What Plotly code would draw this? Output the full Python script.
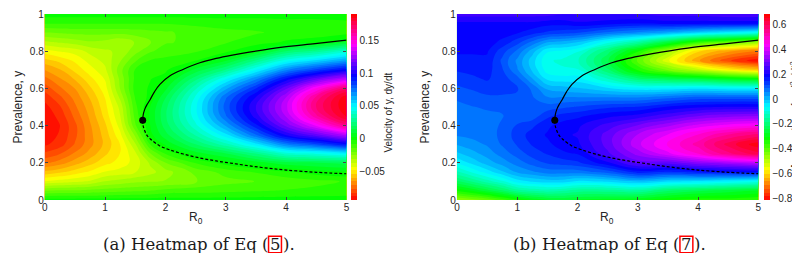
import numpy as np
import plotly.graph_objects as go

# ---------------- data ----------------
r0_grid = [0, 0.25, 0.5, 0.75, 1.0, 1.25, 1.5, 1.75, 2.0, 2.5, 3.0, 3.5, 4.0, 4.5, 5.0]
y_grid = [0.0, 0.05, 0.1, 0.15, 0.2, 0.25, 0.3, 0.35, 0.4, 0.45, 0.5,
          0.55, 0.6, 0.65, 0.7, 0.75, 0.8, 0.85, 0.9, 0.95, 1.0]

# velocity dy/dt, one row per prevalence value (y_grid), across r0_grid
vel_y000 = [0.0, 0.0, 0.0, 0.0, 0.0, 0.0, 0.0, 0.0, 0.0, 0.0, 0.0, 0.0, 0.0, 0.0, 0.0]
vel_y005 = [-0.020, -0.019, -0.019, -0.018, -0.017, -0.016, -0.015, -0.014, -0.012, -0.011, -0.010, -0.009, -0.008, -0.007, -0.006]
vel_y010 = [-0.042, -0.040, -0.038, -0.036, -0.031, -0.029, -0.027, -0.026, -0.025, -0.020, -0.016, -0.014, -0.012, -0.010, -0.008]
vel_y015 = [-0.058, -0.055, -0.051, -0.047, -0.042, -0.040, -0.037, -0.033, -0.028, -0.018, -0.012, -0.008, -0.004, 0.000, 0.002]
vel_y020 = [-0.072, -0.068, -0.062, -0.056, -0.050, -0.046, -0.040, -0.030, -0.020, -0.008, 0.000, 0.006, 0.012, 0.014, 0.016]
vel_y025 = [-0.081, -0.077, -0.070, -0.063, -0.055, -0.048, -0.038, -0.020, -0.008, 0.006, 0.014, 0.026, 0.040, 0.044, 0.050]
vel_y030 = [-0.089, -0.085, -0.076, -0.067, -0.058, -0.048, -0.032, -0.008, 0.004, 0.020, 0.035, 0.052, 0.072, 0.082, 0.094]
vel_y035 = [-0.092, -0.087, -0.078, -0.067, -0.057, -0.044, -0.024, 0.001, 0.012, 0.032, 0.052, 0.076, 0.100, 0.114, 0.130]
vel_y040 = [-0.093, -0.088, -0.078, -0.066, -0.055, -0.040, -0.015, 0.003, 0.017, 0.041, 0.066, 0.092, 0.118, 0.140, 0.165]
vel_y045 = [-0.092, -0.086, -0.075, -0.064, -0.052, -0.037, -0.012, 0.004, 0.019, 0.046, 0.076, 0.102, 0.128, 0.160, 0.186]
vel_y050 = [-0.090, -0.083, -0.072, -0.062, -0.050, -0.035, -0.010, 0.003, 0.018, 0.047, 0.079, 0.105, 0.132, 0.168, 0.190]
vel_y055 = [-0.086, -0.078, -0.069, -0.059, -0.048, -0.030, -0.008, -0.001, 0.014, 0.044, 0.076, 0.100, 0.128, 0.164, 0.189]
vel_y060 = [-0.080, -0.072, -0.065, -0.055, -0.045, -0.025, -0.006, -0.002, 0.007, 0.036, 0.064, 0.088, 0.115, 0.145, 0.172]
vel_y065 = [-0.073, -0.066, -0.059, -0.050, -0.042, -0.024, -0.007, -0.003, 0.000, 0.024, 0.048, 0.070, 0.096, 0.115, 0.132]
vel_y070 = [-0.065, -0.060, -0.052, -0.045, -0.038, -0.022, -0.008, -0.004, -0.004, 0.010, 0.026, 0.048, 0.070, 0.084, 0.096]
vel_y075 = [-0.056, -0.052, -0.047, -0.040, -0.035, -0.026, -0.015, -0.008, -0.007, -0.003, 0.008, 0.026, 0.045, 0.055, 0.066]
vel_y080 = [-0.045, -0.042, -0.040, -0.035, -0.032, -0.030, -0.022, -0.015, -0.011, -0.009, -0.004, 0.004, 0.020, 0.028, 0.040]
vel_y085 = [-0.032, -0.030, -0.028, -0.026, -0.027, -0.030, -0.025, -0.020, -0.015, -0.012, -0.009, -0.006, -0.002, 0.000, 0.008]
vel_y090 = [-0.020, -0.019, -0.018, -0.018, -0.018, -0.018, -0.017, -0.016, -0.015, -0.012, -0.010, -0.009, -0.007, -0.006, -0.005]
vel_y095 = [-0.008, -0.008, -0.008, -0.008, -0.008, -0.008, -0.008, -0.008, -0.008, -0.007, -0.006, -0.006, -0.005, -0.005, -0.004]
vel_y100 = [0.0, 0.0, 0.0, 0.0, 0.0, 0.0, 0.0, 0.0, 0.0, 0.0, 0.0, 0.0, 0.0, 0.0, 0.0]

# acceleration d2y/dt2, one column per R0 value (r0_grid), along y_grid
acc_r000 = [-0.46, -0.33, -0.22, -0.13, -0.06, -0.01, 0.03, 0.06, 0.07, 0.075, 0.08, 0.09, 0.11, 0.13, 0.15, 0.17, 0.18, 0.19, 0.19, 0.20, 0.25]
acc_r025 = [-0.44, -0.30, -0.18, -0.09, -0.025, 0.015, 0.045, 0.065, 0.072, 0.078, 0.085, 0.10, 0.12, 0.14, 0.155, 0.17, 0.18, 0.19, 0.19, 0.20, 0.25]
acc_r050 = [-0.42, -0.26, -0.14, -0.05, 0.01, 0.04, 0.06, 0.07, 0.075, 0.08, 0.09, 0.11, 0.13, 0.15, 0.16, 0.17, 0.18, 0.19, 0.19, 0.20, 0.25]
acc_r075 = [-0.38, -0.22, -0.10, -0.01, 0.04, 0.07, 0.09, 0.095, 0.09, 0.085, 0.09, 0.11, 0.13, 0.13, 0.12, 0.11, 0.13, 0.17, 0.19, 0.20, 0.25]
acc_r100 = [-0.34, -0.17, -0.05, 0.03, 0.07, 0.10, 0.12, 0.13, 0.12, 0.10, 0.10, 0.11, 0.12, 0.10, 0.06, 0.05, 0.08, 0.13, 0.18, 0.20, 0.25]
acc_r125 = [-0.30, -0.15, -0.03, 0.05, 0.10, 0.13, 0.15, 0.16, 0.14, 0.10, 0.09, 0.09, 0.08, 0.03, -0.01, -0.02, 0.01, 0.08, 0.16, 0.20, 0.25]
acc_r150 = [-0.28, -0.14, -0.02, 0.07, 0.12, 0.15, 0.17, 0.18, 0.17, 0.14, 0.10, 0.06, 0.02, -0.04, -0.08, -0.09, -0.06, 0.03, 0.14, 0.19, 0.25]
acc_r175 = [-0.27, -0.15, -0.02, 0.07, 0.13, 0.17, 0.19, 0.20, 0.19, 0.16, 0.11, 0.06, 0.01, -0.05, -0.09, -0.10, -0.07, 0.02, 0.13, 0.19, 0.24]
acc_r200 = [-0.28, -0.17, -0.04, 0.07, 0.14, 0.18, 0.20, 0.21, 0.20, 0.17, 0.12, 0.06, 0.00, -0.05, -0.09, -0.12, -0.09, 0.00, 0.12, 0.20, 0.24]
acc_r250 = [-0.29, -0.17, -0.03, 0.10, 0.20, 0.26, 0.28, 0.28, 0.25, 0.20, 0.14, 0.06, -0.03, -0.12, -0.21, -0.24, -0.20, -0.08, 0.08, 0.19, 0.24]
acc_r300 = [-0.30, -0.16, 0.00, 0.16, 0.28, 0.34, 0.38, 0.36, 0.30, 0.22, 0.15, 0.06, -0.05, -0.20, -0.34, -0.40, -0.33, -0.15, 0.05, 0.18, 0.24]
acc_r350 = [-0.33, -0.21, -0.03, 0.14, 0.28, 0.41, 0.45, 0.42, 0.35, 0.26, 0.18, 0.08, -0.05, -0.23, -0.43, -0.54, -0.47, -0.25, 0.02, 0.19, 0.25]
acc_r400 = [-0.35, -0.24, -0.04, 0.16, 0.32, 0.48, 0.52, 0.48, 0.40, 0.30, 0.20, 0.10, -0.04, -0.25, -0.50, -0.66, -0.60, -0.35, -0.02, 0.19, 0.25]
acc_r450 = [-0.35, -0.26, -0.06, 0.17, 0.35, 0.56, 0.61, 0.54, 0.43, 0.32, 0.21, 0.10, -0.05, -0.28, -0.57, -0.75, -0.66, -0.40, -0.05, 0.19, 0.26]
acc_r500 = [-0.36, -0.28, -0.08, 0.18, 0.38, 0.62, 0.68, 0.58, 0.45, 0.33, 0.21, 0.10, -0.05, -0.30, -0.62, -0.81, -0.70, -0.45, -0.08, 0.19, 0.26]

# equilibrium branches (fold at the dot)
fold_r0 = [1.623]
fold_y = [0.429]
upper_r0 = [1.623, 1.633, 1.66, 1.69, 1.743, 1.82, 1.908, 2.07, 2.29, 2.57, 2.84, 3.11, 3.39, 3.94, 4.48, 5.0]
upper_y = [0.429, 0.46, 0.49, 0.51, 0.538, 0.583, 0.622, 0.667, 0.702, 0.738, 0.761, 0.779, 0.795, 0.822, 0.841, 0.86]
lower_r0 = [1.623, 1.63, 1.66, 1.70, 1.75, 1.9, 2.07, 2.3, 2.57, 2.84, 3.11, 3.4, 3.7, 4.0, 4.5, 5.0]
lower_y = [0.429, 0.40, 0.37, 0.345, 0.328, 0.292, 0.27, 0.247, 0.226, 0.21, 0.197, 0.183, 0.171, 0.161, 0.149, 0.141]

x_ticks = [0, 1, 2, 3, 4, 5]
y_ticks = [0, 0.2, 0.4, 0.6, 0.8, 1]
vel_ticks = [-0.05, 0, 0.05, 0.1, 0.15]
acc_ticks = [-0.8, -0.6, -0.4, -0.2, 0, 0.2, 0.4, 0.6]
vel_range = [-0.0935, 0.19]
acc_range = [-0.816, 0.688]

# ---------------- build tables ----------------
vel_z = np.array([vel_y000, vel_y005, vel_y010, vel_y015, vel_y020, vel_y025, vel_y030,
                  vel_y035, vel_y040, vel_y045, vel_y050, vel_y055, vel_y060, vel_y065,
                  vel_y070, vel_y075, vel_y080, vel_y085, vel_y090, vel_y095, vel_y100])
acc_z = np.array([acc_r000, acc_r025, acc_r050, acc_r075, acc_r100, acc_r125, acc_r150,
                  acc_r175, acc_r200, acc_r250, acc_r300, acc_r350, acc_r400, acc_r450,
                  acc_r500]).T

hsv = [[0, '#ff0000'], [1/6, '#ffff00'], [2/6, '#00ff00'], [3/6, '#00ffff'],
       [4/6, '#0000ff'], [5/6, '#ff00ff'], [1, '#ff0000']]

W, H = 800, 253
MT, MB = 5, 61
PH = H - MT - MB


def px_x(px):
    return px / W


def px_y(py):
    return (H - MB - py) / PH


SANS = 'Liberation Sans, Arial, sans-serif'
tick_font = dict(family=SANS, size=10, color='#262626')
label_font = dict(family=SANS, size=12, color='#262626')
cb_title_font = dict(family=SANS, size=10, color='#262626')
cap_font = dict(family='DejaVu Serif, serif', size=16.5, color='#1a1a1a')

fig = go.Figure()


def add_panel(z, zr, ticks, xa, ya, cbx, nlev):
    fig.add_trace(go.Contour(
        x=r0_grid, y=y_grid, z=z, xaxis=xa, yaxis=ya,
        colorscale=hsv, zmin=zr[0], zmax=zr[1], autocontour=False,
        contours=dict(start=zr[0], end=zr[1], size=(zr[1] - zr[0]) / nlev,
                      coloring='fill', showlines=False),
        line=dict(width=0, smoothing=1.3),
        colorbar=dict(x=cbx, xanchor='left', y=0.5, yanchor='middle', len=1,
                      thickness=6, thicknessmode='pixels', xpad=0, ypad=0,
                      outlinewidth=0, tickvals=ticks, ticks='',
                      tickfont=tick_font),
        hoverinfo='skip'))
    fig.add_trace(go.Scatter(x=upper_r0, y=upper_y, mode='lines', xaxis=xa, yaxis=ya,
                             line=dict(color='black', width=1.2, shape='spline'),
                             showlegend=False, hoverinfo='skip'))
    fig.add_trace(go.Scatter(x=lower_r0, y=lower_y, mode='lines', xaxis=xa, yaxis=ya,
                             line=dict(color='black', width=1.2, shape='spline',
                                       dash='3px,2px'),
                             showlegend=False, hoverinfo='skip'))
    fig.add_trace(go.Scatter(x=fold_r0, y=fold_y, mode='markers', xaxis=xa, yaxis=ya,
                             marker=dict(color='black', size=7),
                             showlegend=False, hoverinfo='skip'))


add_panel(vel_z, vel_range, vel_ticks, 'x', 'y', px_x(343), 50)
add_panel(acc_z, acc_range, acc_ticks, 'x2', 'y2', px_x(758.5), 50)

axis_common = dict(ticks='inside', ticklen=3, tickcolor='#444', tickwidth=1,
                   mirror='ticks', showgrid=False, zeroline=False, showline=False,
                   tickfont=tick_font, ticklabeloverflow='allow')

fig.update_layout(
    width=W, height=H,
    margin=dict(l=0, r=0, t=MT, b=MB),
    paper_bgcolor='white', plot_bgcolor='white',
    showlegend=False,
    xaxis=dict(domain=[px_x(34), px_x(338)], range=[0, 5], tickvals=x_ticks, anchor='y',
               **axis_common),
    yaxis=dict(domain=[0, 1], range=[0, 1], tickvals=y_ticks, anchor='x', **axis_common),
    xaxis2=dict(domain=[px_x(449.3), px_x(753)], range=[0, 5], tickvals=x_ticks, anchor='y2',
                **axis_common),
    yaxis2=dict(domain=[0, 1], range=[0, 1], tickvals=y_ticks, anchor='x2', **axis_common),
)


def note(text, px, py, font, angle=0, xanchor='center'):
    fig.add_annotation(text=text, xref='paper', yref='paper', x=px_x(px), y=px_y(py),
                       showarrow=False, font=font, textangle=angle,
                       xanchor=xanchor, yanchor='middle')


# axis titles
note('Prevalence, y', 7, 98, label_font, -90)
note('Prevalence, y', 417, 98, label_font, -90)
note('R<sub>0</sub>', 186, 210, label_font)
note('R<sub>0</sub>', 601, 210, label_font)
# colorbar titles
note('Velocity of y, dy/dt', 380, 104, cb_title_font, -90)
note('Acceleration of y, d<sup>2</sup>y/dt<sup>2</sup>', 790, 107, cb_title_font, -90)

# captions
note('(a)', 104.7, 237, cap_font)
note('Heatmap of Eq (', 261.5, 237, cap_font, xanchor='right')
note('5', 266, 237, cap_font)
note(').', 272, 237, cap_font, xanchor='left')
note('(b)', 517, 237, cap_font)
note('Heatmap of Eq (', 676, 237, cap_font, xanchor='right')
note('7', 680.5, 237, cap_font)
note(').', 686.5, 237, cap_font, xanchor='left')

fig.add_shape(type='rect', xref='paper', yref='paper',
              x0=px_x(259.5), x1=px_x(272.5), y0=px_y(245), y1=px_y(228.5),
              line=dict(color='#ff0000', width=1.5))
fig.add_shape(type='rect', xref='paper', yref='paper',
              x0=px_x(674), x1=px_x(687), y0=px_y(245), y1=px_y(228.5),
              line=dict(color='#ff0000', width=1.5))

fig.write_html('out.html')
